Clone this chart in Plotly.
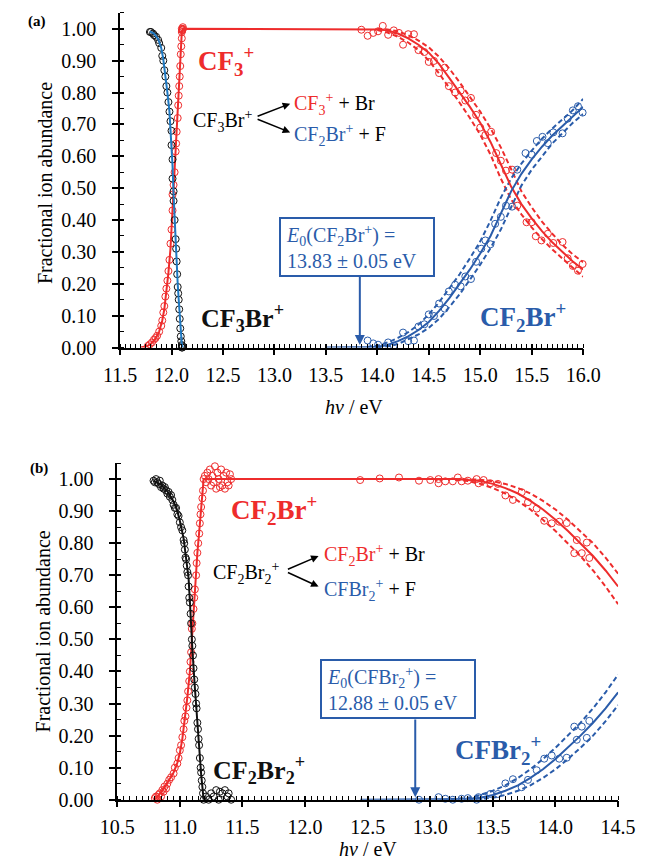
import plotly.graph_objects as go

# ---------------- Panel (a) data: CF3Br+ ----------------
a_cf3br_pts = [(11.79,0.99),(11.80,0.99),(11.82,0.985),(11.83,0.98),(11.85,0.975),(11.87,0.965),(11.88,0.955),
               (11.90,0.94),(11.91,0.915),(11.92,0.90),(11.93,0.87),(11.94,0.85),(11.95,0.82),(11.96,0.80),
               (11.97,0.77),(11.98,0.74),(11.99,0.71),(12.00,0.68),(12.00,0.635),(12.01,0.59),(12.01,0.53),
               (12.02,0.49),(12.02,0.46),(12.03,0.40),(12.04,0.34),(12.045,0.31),(12.05,0.27),(12.055,0.23),
               (12.06,0.19),(12.065,0.17),(12.07,0.15),(12.075,0.12),(12.08,0.09),(12.085,0.06),(12.09,0.035),
               (12.095,0.02),(12.10,0.008),(12.10,0.0),(12.105,0.005),(12.11,-0.003),(12.105,0.0)]
a_cf3br_fit = [(11.79,0.992),(11.83,0.985),(11.87,0.968),(11.90,0.94),(11.92,0.905),(11.94,0.86),(11.96,0.80),
               (11.98,0.74),(12.00,0.64),(12.01,0.57),(12.02,0.48),(12.03,0.40),(12.04,0.33),(12.05,0.27),
               (12.06,0.20),(12.07,0.15),(12.08,0.10),(12.09,0.04),(12.10,0.01),(12.11,0.0)]

a_cf3_pts = [(11.77,0.005),(11.79,0.01),(11.81,0.016),(11.83,0.025),(11.845,0.03),(11.86,0.037),(11.88,0.05),
             (11.90,0.068),(11.91,0.085),(11.92,0.11),(11.93,0.13),(11.94,0.16),(11.95,0.185),(11.96,0.21),
             (11.97,0.24),(11.98,0.275),(11.99,0.326),(12.00,0.37),(12.01,0.43),(12.01,0.48),(12.02,0.51),
             (12.03,0.55),(12.04,0.615),(12.045,0.64),(12.05,0.677),(12.06,0.72),(12.065,0.76),(12.07,0.79),
             (12.075,0.82),(12.08,0.85),(12.085,0.883),(12.09,0.92),(12.095,0.945),(12.10,0.97),(12.10,0.99),
             (12.105,0.997),(12.11,1.0),(12.10,1.0),(12.105,0.995),(12.11,1.005),
             (13.845,0.997),(13.906,0.978),(13.96,0.987),(14.007,0.992),(14.053,1.009),(14.105,0.981),
             (14.16,0.995),(14.21,0.987),(14.25,0.95),(14.30,0.983),(14.356,0.983),(14.40,0.933),(14.457,0.927),
             (14.50,0.896),(14.55,0.899),(14.60,0.861),(14.655,0.878),(14.695,0.82),(14.756,0.80),(14.81,0.806),
             (14.855,0.775),(14.91,0.783),(14.96,0.73),(15.00,0.69),(15.05,0.667),(15.106,0.677),(15.155,0.61),
             (15.20,0.586),(15.25,0.555),(15.31,0.558),(15.36,0.445),(15.45,0.393),(15.50,0.393),(15.54,0.349),
             (15.595,0.336),(15.657,0.357),(15.71,0.328),(15.80,0.331),(15.85,0.28),(15.90,0.256),(15.95,0.241),
             (15.995,0.262)]
a_cf3_fit = [(11.70,0.0),(11.76,0.004),(11.80,0.012),(11.84,0.025),(11.88,0.05),(11.91,0.085),(11.93,0.12),
             (11.95,0.17),(11.97,0.235),(11.99,0.31),(12.00,0.37),(12.01,0.43),(12.02,0.49),(12.03,0.55),
             (12.04,0.61),(12.05,0.675),(12.06,0.745),(12.07,0.815),(12.08,0.88),(12.09,0.94),(12.10,0.99),
             (12.11,1.0),(13.80,1.0),(14.0,0.998),(14.1,0.995),(14.2,0.985),(14.3,0.97),(14.4,0.95),(14.5,0.925),
             (14.6,0.89),(14.7,0.845),(14.8,0.80),(14.9,0.755),(15.0,0.705),(15.1,0.645),(15.2,0.575),(15.3,0.505),
             (15.4,0.45),(15.5,0.405),(15.6,0.365),(15.7,0.33),(15.8,0.30),(15.9,0.27),(16.0,0.245)]
a_cf3_hi = [(14.0,1.0),(14.1,0.998),(14.2,0.992),(14.3,0.98),(14.4,0.963),(14.5,0.942),(14.6,0.912),(14.7,0.875),
            (14.8,0.832),(14.9,0.787),(15.0,0.74),(15.1,0.688),(15.2,0.628),(15.3,0.56),(15.4,0.49),(15.5,0.44),
            (15.6,0.395),(15.7,0.357),(15.8,0.322),(15.9,0.292),(16.0,0.268)]
a_cf3_lo = [(14.0,0.996),(14.1,0.988),(14.2,0.975),(14.3,0.957),(14.4,0.933),(14.5,0.90),(14.6,0.86),(14.7,0.815),
            (14.8,0.768),(14.9,0.72),(15.0,0.668),(15.1,0.605),(15.2,0.53),(15.3,0.465),(15.4,0.418),(15.5,0.377),
            (15.6,0.34),(15.7,0.308),(15.8,0.278),(15.9,0.25),(16.0,0.222)]

a_cf2br_pts = [(13.85,-0.002),(13.906,0.022),(13.96,0.013),(14.007,0.009),(14.053,-0.01),(14.105,0.016),
               (14.16,0.006),(14.25,0.047),(14.30,0.02),(14.356,0.022),(14.40,0.066),(14.457,0.073),(14.50,0.104),
               (14.55,0.099),(14.60,0.138),(14.655,0.122),(14.695,0.176),(14.756,0.197),(14.81,0.192),
               (14.855,0.223),(14.91,0.215),(14.96,0.269),(15.01,0.31),(15.05,0.336),(15.10,0.324),(15.145,0.388),
               (15.20,0.41),(15.25,0.445),(15.31,0.442),(15.36,0.558),(15.44,0.61),(15.50,0.605),(15.55,0.648),
               (15.605,0.661),(15.657,0.641),(15.71,0.675),(15.80,0.672),(15.85,0.718),(15.90,0.744),
               (15.95,0.757),(15.995,0.737)]
a_cf2br_fit = [(13.50,0.0),(13.83,0.0),(14.0,0.002),(14.1,0.008),(14.2,0.02),(14.3,0.035),(14.4,0.055),(14.5,0.08),
               (14.6,0.115),(14.7,0.155),(14.8,0.20),(14.9,0.245),(15.0,0.295),(15.1,0.35),(15.2,0.42),(15.3,0.49),
               (15.4,0.545),(15.5,0.59),(15.6,0.63),(15.7,0.665),(15.8,0.695),(15.9,0.725),(16.0,0.755)]
a_cf2br_hi = [(13.9,0.002),(14.0,0.006),(14.1,0.016),(14.2,0.03),(14.3,0.048),(14.4,0.072),(14.5,0.104),
              (14.6,0.142),(14.7,0.186),(14.8,0.23),(14.9,0.28),(15.0,0.333),(15.1,0.398),(15.2,0.47),(15.3,0.53),
              (15.4,0.577),(15.5,0.618),(15.6,0.655),(15.7,0.687),(15.8,0.716),(15.9,0.745),(16.0,0.78)]
a_cf2br_lo = [(14.0,0.0),(14.1,0.003),(14.2,0.011),(14.3,0.025),(14.4,0.041),(14.5,0.062),(14.6,0.09),(14.7,0.127),
              (14.8,0.167),(14.9,0.213),(15.0,0.26),(15.1,0.312),(15.2,0.37),(15.3,0.44),(15.4,0.508),(15.5,0.558),
              (15.6,0.60),(15.7,0.64),(15.8,0.673),(15.9,0.705),(16.0,0.733)]

# ---------------- Panel (b) data: CF2Br2+ ----------------
b_cf2br2_pts = [(10.79,0.995),(10.80,0.99),(10.81,1.0),(10.82,0.99),(10.83,0.985),(10.84,0.995),(10.85,0.975),
                (10.86,0.98),(10.87,0.97),(10.88,0.975),(10.89,0.965),(10.90,0.955),(10.91,0.96),(10.92,0.945),
                (10.93,0.95),(10.94,0.935),(10.95,0.92),(10.96,0.91),(10.97,0.91),(10.98,0.89),(10.99,0.885),
                (11.00,0.865),(11.01,0.85),(11.02,0.84),(11.03,0.81),(11.035,0.80),(11.04,0.78),(11.045,0.755),
                (11.05,0.75),(11.055,0.73),(11.06,0.71),(11.066,0.70),(11.07,0.665),(11.075,0.63),(11.08,0.615),
                (11.086,0.58),(11.09,0.55),(11.096,0.50),(11.10,0.48),(11.105,0.45),(11.109,0.41),(11.115,0.375),
                (11.12,0.35),(11.125,0.33),(11.13,0.30),(11.134,0.285),(11.14,0.24),(11.145,0.22),(11.15,0.19),
                (11.154,0.17),(11.16,0.13),(11.166,0.10),(11.17,0.085),(11.175,0.06),(11.18,0.04),(11.185,0.02),
                (11.19,0.0),(11.20,-0.01),(11.21,0.01),(11.22,-0.02),(11.23,0.0),(11.24,-0.03),(11.25,0.02),
                (11.26,-0.01),(11.27,0.01),(11.28,-0.04),(11.29,0.03),(11.30,-0.02),(11.31,0.0),(11.32,0.025),
                (11.33,-0.03),(11.34,0.02),(11.35,-0.01),(11.36,0.03),(11.37,-0.02),(11.38,0.01),(11.39,0.02),
                (11.40,-0.015),(11.41,0.0)]
b_cf2br2_fit = [(10.79,0.995),(10.85,0.982),(10.90,0.962),(10.95,0.93),(10.98,0.90),(11.00,0.87),(11.03,0.815),
                (11.05,0.755),(11.07,0.69),(11.08,0.62),(11.09,0.54),(11.10,0.47),(11.12,0.35),(11.14,0.23),
                (11.15,0.18),(11.16,0.12),(11.17,0.08),(11.18,0.04),(11.19,0.0)]

b_cf2br_pts = [(10.80,0.005),(10.81,0.01),(10.82,0.0),(10.83,0.015),(10.84,0.02),(10.85,0.01),(10.86,0.03),
               (10.87,0.025),(10.877,0.041),(10.89,0.035),(10.90,0.05),(10.915,0.062),(10.93,0.07),(10.95,0.082),
               (10.96,0.10),(10.98,0.113),(10.99,0.13),(11.00,0.154),(11.01,0.17),(11.02,0.195),(11.03,0.22),
               (11.036,0.246),(11.045,0.26),(11.053,0.287),(11.06,0.31),(11.066,0.338),(11.075,0.37),(11.08,0.40),
               (11.085,0.43),(11.09,0.46),(11.096,0.533),(11.10,0.55),(11.109,0.595),(11.115,0.63),(11.12,0.656),
               (11.13,0.70),(11.134,0.738),(11.14,0.77),(11.147,0.80),(11.155,0.83),(11.16,0.862),(11.165,0.89),
               (11.17,0.913),(11.18,0.94),(11.185,0.964),(11.19,1.0),(11.20,1.01),(11.21,0.99),(11.22,1.02),
               (11.23,1.0),(11.24,1.03),(11.25,0.98),(11.26,1.01),(11.27,0.99),(11.28,1.04),(11.29,0.97),
               (11.30,1.02),(11.31,1.0),(11.32,0.975),(11.33,1.03),(11.34,0.98),(11.35,1.01),(11.36,0.97),
               (11.37,1.02),(11.38,0.99),(11.39,0.98),(11.40,1.015),(11.41,1.0),
               (12.44,0.997),(12.596,1.002),(12.75,1.005),(12.91,0.995),(13.00,0.997),(13.066,1.0),(13.066,0.987),
               (13.12,0.993),(13.18,0.993),(13.22,1.005),(13.25,0.993),(13.30,0.995),(13.37,1.0),(13.385,0.987),
               (13.426,0.997),(13.48,0.987),(13.54,0.985),(13.60,0.949),(13.66,0.935),(13.73,0.959),(13.78,0.928),
               (13.85,0.908),(13.91,0.87),(13.97,0.862),(14.03,0.867),(14.09,0.863),(14.15,0.769),(14.17,0.81),
               (14.21,0.769),(14.25,0.802),(14.27,0.754)]
b_cf2br_fit = [(10.80,0.0),(10.84,0.018),(10.88,0.04),(10.92,0.065),(10.95,0.085),(10.98,0.115),(11.00,0.145),
               (11.02,0.19),(11.04,0.25),(11.06,0.32),(11.08,0.40),(11.09,0.46),(11.10,0.54),(11.12,0.65),
               (11.14,0.77),(11.16,0.86),(11.18,0.94),(11.19,1.0),(13.2,1.0),(13.3,0.998),(13.4,0.994),
               (13.5,0.985),(13.6,0.972),(13.7,0.955),(13.8,0.932),(13.9,0.905),(14.0,0.873),(14.1,0.838),
               (14.2,0.80),(14.3,0.76),(14.4,0.715),(14.5,0.665)]
b_cf2br_hi = [(13.2,1.0),(13.3,1.0),(13.4,0.998),(13.5,0.993),(13.6,0.985),(13.7,0.972),(13.8,0.955),(13.9,0.932),
              (14.0,0.905),(14.1,0.873),(14.2,0.838),(14.3,0.80),(14.4,0.755),(14.5,0.705)]
b_cf2br_lo = [(13.2,0.998),(13.3,0.994),(13.4,0.985),(13.5,0.972),(13.6,0.955),(13.7,0.932),(13.8,0.905),
              (13.9,0.873),(14.0,0.838),(14.1,0.80),(14.2,0.76),(14.3,0.715),(14.4,0.665),(14.5,0.61)]

b_cfbr2_pts = [(12.44,-0.005),(12.596,-0.005),(12.75,-0.008),(12.91,0.0),(13.00,-0.003),(13.066,0.008),
               (13.066,-0.003),(13.12,0.003),(13.18,0.0),(13.22,-0.008),(13.25,0.003),(13.30,0.005),(13.37,0.0),
               (13.385,0.008),(13.426,0.008),(13.48,0.018),(13.54,0.018),(13.60,0.051),(13.66,0.064),
               (13.73,0.039),(13.78,0.062),(13.85,0.092),(13.91,0.128),(13.97,0.138),(14.03,0.128),(14.09,0.131),
               (14.15,0.228),(14.17,0.187),(14.21,0.228),(14.25,0.193),(14.27,0.246)]
b_cfbr2_fit = [(12.44,0.0),(12.88,0.0),(13.2,0.0),(13.3,0.002),(13.4,0.006),(13.5,0.015),(13.6,0.028),(13.7,0.045),
               (13.8,0.068),(13.9,0.095),(14.0,0.127),(14.1,0.162),(14.2,0.20),(14.3,0.24),(14.4,0.285),(14.5,0.335)]
b_cfbr2_hi = [(13.1,0.0),(13.2,0.002),(13.3,0.006),(13.4,0.015),(13.5,0.028),(13.6,0.045),(13.7,0.068),(13.8,0.095),
              (13.9,0.127),(14.0,0.162),(14.1,0.20),(14.2,0.24),(14.3,0.285),(14.4,0.335),(14.5,0.39)]
b_cfbr2_lo = [(13.3,0.0),(13.4,0.002),(13.5,0.006),(13.6,0.015),(13.7,0.028),(13.8,0.045),(13.9,0.068),(14.0,0.095),
              (14.1,0.127),(14.2,0.162),(14.3,0.20),(14.4,0.245),(14.5,0.295)]

a_xticks = [11.5, 12.0, 12.5, 13.0, 13.5, 14.0, 14.5, 15.0, 15.5, 16.0]
b_xticks = [10.5, 11.0, 11.5, 12.0, 12.5, 13.0, 13.5, 14.0, 14.5]
yticks = [0.0, 0.1, 0.2, 0.3, 0.4, 0.5, 0.6, 0.7, 0.8, 0.9, 1.0]

# ---------------- styles ----------------
RED = "#EE2C2C"
BLUE = "#2A5CAA"
LBLUE = "#1F78C0"
BLACK = "#111111"
FONT = "Liberation Serif"

fig = go.Figure()


def xy(pairs):
    return [p[0] for p in pairs], [p[1] for p in pairs]


def add_line(pairs, color, xa, ya, dash="solid", width=2):
    x, y = xy(pairs)
    fig.add_trace(go.Scatter(x=x, y=y, mode="lines", xaxis=xa, yaxis=ya,
                             line=dict(color=color, width=width, dash=dash),
                             showlegend=False, hoverinfo="skip"))


def add_pts(pairs, color, xa, ya):
    x, y = xy(pairs)
    fig.add_trace(go.Scatter(x=x, y=y, mode="markers", xaxis=xa, yaxis=ya, cliponaxis=False,
                             marker=dict(symbol="circle-open", size=7, color=color, line=dict(width=1)),
                             showlegend=False))


DASH = "5px,3px"
# panel a
add_line(a_cf3_hi, RED, "x", "y", DASH)
add_line(a_cf3_lo, RED, "x", "y", DASH)
add_line(a_cf2br_hi, BLUE, "x", "y", DASH)
add_line(a_cf2br_lo, BLUE, "x", "y", DASH)
add_line(a_cf3_fit, RED, "x", "y")
add_line(a_cf2br_fit, BLUE, "x", "y")
add_pts(a_cf3_pts, RED, "x", "y")
add_pts(a_cf2br_pts, BLUE, "x", "y")
add_pts(a_cf3br_pts, BLACK, "x", "y")
add_line(a_cf3br_fit, LBLUE, "x", "y")
# panel b
add_line(b_cf2br_hi, RED, "x2", "y2", DASH)
add_line(b_cf2br_lo, RED, "x2", "y2", DASH)
add_line(b_cfbr2_hi, BLUE, "x2", "y2", DASH)
add_line(b_cfbr2_lo, BLUE, "x2", "y2", DASH)
add_line(b_cf2br_fit, RED, "x2", "y2")
add_line(b_cfbr2_fit, BLUE, "x2", "y2")
add_pts(b_cf2br_pts, RED, "x2", "y2")
add_pts(b_cfbr2_pts, BLUE, "x2", "y2")
add_pts(b_cf2br2_pts, BLACK, "x2", "y2")
add_line(b_cf2br2_fit, BLACK, "x2", "y2")

# dummy traces for overlay tick axes
for xa, ya in (("x3", "y3"), ("x4", "y4")):
    fig.add_trace(go.Scatter(x=[None], y=[None], xaxis=xa, yaxis=ya, mode="markers",
                             showlegend=False, hoverinfo="skip"))

W, H = 655, 868
axfont = dict(family=FONT, size=20, color="black")


def xax(dom, anchor, rng, ticks):
    return dict(domain=dom, anchor=anchor, range=rng, tickmode="array", tickvals=ticks,
                ticktext=[f"{t:.1f}" for t in ticks], ticks="outside", ticklen=6, tickwidth=1.5,
                tickcolor="black", showline=True, linecolor="black", linewidth=1.5, showgrid=False,
                zeroline=False, tickfont=axfont, ticklabelstandoff=3,
                minor=dict(dtick=0.05, tick0=rng[0], ticks="inside", ticklen=4, tickwidth=1, tickcolor="black"))


def yax(dom, anchor):
    return dict(domain=dom, anchor=anchor, range=[0, 1.05], tickmode="array", tickvals=yticks,
                ticktext=[f"{t:.2f}" for t in yticks], ticks="outside", ticklen=6, tickwidth=1.5,
                tickcolor="black", showline=True, linecolor="black", linewidth=1.5, showgrid=False,
                zeroline=False, tickfont=axfont, ticklabelstandoff=12,
                minor=dict(dtick=0.05, tick0=0, ticks="inside", ticklen=4, tickwidth=1, tickcolor="black"))


def xov(over, anchor, rng, ticks):
    return dict(overlaying=over, anchor=anchor, range=rng, tickmode="array", tickvals=ticks,
                ticks="inside", ticklen=4, tickwidth=1.5, tickcolor="black", showticklabels=False,
                showline=False, showgrid=False, zeroline=False)


def yov(over, anchor):
    return dict(overlaying=over, anchor=anchor, range=[0, 1.05], tickmode="array", tickvals=yticks,
                ticks="inside", ticklen=4, tickwidth=1.5, tickcolor="black", showticklabels=False,
                showline=False, showgrid=False, zeroline=False)


a_xdom = [108 / W, 598 / W]
b_xdom = [105 / W, 635 / W]
a_ydom = [(H - 352) / H, (H - 13) / H]
b_ydom = [(H - 810) / H, (H - 469) / H]

fig.update_layout(
    width=W, height=H, margin=dict(l=0, r=0, t=0, b=0),
    paper_bgcolor="white", plot_bgcolor="white", showlegend=False,
    font=dict(family=FONT, color="black"),
    xaxis=xax(a_xdom, "y", [11.5, 16.0], a_xticks),
    yaxis=yax(a_ydom, "x"),
    xaxis2=xax(b_xdom, "y2", [10.5, 14.5], b_xticks),
    yaxis2=yax(b_ydom, "x2"),
    xaxis3=xov("x", "y", [11.5, 16.0], a_xticks),
    yaxis3=yov("y", "x"),
    xaxis4=xov("x2", "y2", [10.5, 14.5], b_xticks),
    yaxis4=yov("y2", "x2"),
)

ann = []


def txt(x, y, text, xr, yr, size, color="black", xanchor="center", bold=False):
    if bold:
        text = "<b>" + text + "</b>"
    ann.append(dict(x=x, y=y, xref=xr, yref=yr, text=text, showarrow=False, xanchor=xanchor,
                    yanchor="middle", font=dict(family=FONT, size=size, color=color)))


def arrow(x0, y0, x1, y1, xr, yr, color, head=2, width=1.5):
    ann.append(dict(x=x1, y=y1, ax=x0, ay=y0, xref=xr, yref=yr, axref=xr, ayref=yr, text="",
                    showarrow=True, arrowhead=head, arrowsize=1, arrowwidth=width, arrowcolor=color))


def box(x, y, text, xr, yr):
    ann.append(dict(x=x, y=y, xref=xr, yref=yr, text=text, showarrow=False, align="left",
                    xanchor="center", yanchor="middle",
                    width=142, height=46, borderpad=5, borderwidth=2, bordercolor=BLUE, bgcolor="white",
                    font=dict(family=FONT, size=20, color=BLUE)))


# panel labels & titles
txt(20 / W, (H - 22) / H, "(a)", "paper", "paper", 15, bold=True)
txt(22 / W, (H - 475) / H, "(b)", "paper", "paper", 15, bold=True)
txt(356 / W, (H - 412) / H, "<i>hν</i> / eV", "paper", "paper", 20)
txt(370 / W, (H - 860) / H, "<i>hν</i> / eV", "paper", "paper", 20)
for xc, yc in ((28 / W, (H - 185) / H), (26 / W, (H - 640) / H)):
    ann.append(dict(x=xc, y=yc, xref="paper", yref="paper", text="Fractional ion abundance",
                    showarrow=False, textangle=-90, xanchor="center", yanchor="middle",
                    font=dict(family=FONT, size=20, color="black")))

# panel a annotations
txt(12.53, 0.898, "CF<sub>3</sub><sup>+</sup>", "x", "y", 27, RED, bold=True)
txt(12.496, 0.712, "CF<sub>3</sub>Br<sup>+</sup>", "x", "y", 20)
arrow(12.822, 0.724, 13.153, 0.765, "x", "y", "black")
arrow(12.822, 0.718, 13.153, 0.675, "x", "y", "black")
txt(13.171, 0.765, "<span style='color:%s'>CF<sub>3</sub><sup>+</sup></span> + Br" % RED, "x", "y", 20,
    xanchor="left")
txt(13.171, 0.666, "<span style='color:%s'>CF<sub>2</sub>Br<sup>+</sup></span> + F" % BLUE, "x", "y", 20,
    xanchor="left")
box(13.80, 0.316, "<i>E</i><sub>0</sub>(CF<sub>2</sub>Br<sup>+</sup>) =<br>13.83 ± 0.05 eV", "x", "y")
arrow(13.83, 0.232, 13.83, 0.008, "x", "y", BLUE, head=2, width=2)
txt(12.685, 0.093, "CF<sub>3</sub>Br<sup>+</sup>", "x", "y", 26, BLACK, bold=True)
txt(15.42, 0.096, "CF<sub>2</sub>Br<sup>+</sup>", "x", "y", 27, BLUE, bold=True)

# panel b annotations
txt(11.753, 0.905, "CF<sub>2</sub>Br<sup>+</sup>", "x2", "y2", 27, RED, bold=True)
txt(11.526, 0.708, "CF<sub>2</sub>Br<sub>2</sub><sup>+</sup>", "x2", "y2", 20)
arrow(11.851, 0.717, 12.108, 0.760, "x2", "y2", "black")
arrow(11.851, 0.711, 12.108, 0.665, "x2", "y2", "black")
txt(12.138, 0.763, "<span style='color:%s'>CF<sub>2</sub>Br<sup>+</sup></span> + Br" % RED, "x2", "y2", 20,
    xanchor="left")
txt(12.138, 0.655, "<span style='color:%s'>CFBr<sub>2</sub><sup>+</sup></span> + F" % BLUE, "x2", "y2", 20,
    xanchor="left")
box(12.739, 0.345, "<i>E</i><sub>0</sub>(CFBr<sub>2</sub><sup>+</sup>) =<br>12.88 ± 0.05 eV", "x2", "y2")
arrow(12.88, 0.255, 12.88, 0.008, "x2", "y2", BLUE, head=2, width=2)
txt(11.632, 0.092, "CF<sub>2</sub>Br<sub>2</sub><sup>+</sup>", "x2", "y2", 26, BLACK, bold=True)
txt(13.54, 0.154, "CFBr<sub>2</sub><sup>+</sup>", "x2", "y2", 27, BLUE, bold=True)

fig.update_layout(annotations=ann)
fig.write_html("out.html")
